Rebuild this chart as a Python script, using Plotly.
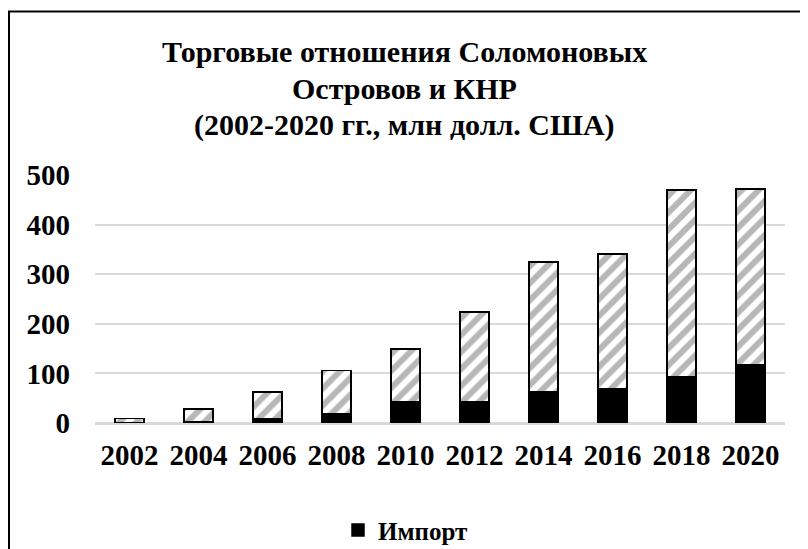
import plotly.graph_objects as go

years = ["2002", "2004", "2006", "2008", "2010", "2012", "2014", "2016", "2018", "2020"]
imports = [1, 3, 9, 18, 43, 43, 62, 68, 92, 118]
exports = [8, 25, 53, 88, 106, 180, 262, 273, 378, 354]
y_ticks = [0, 100, 200, 300, 400, 500]
title_lines = ["Торговые отношения Соломоновых", "Островов и КНР", "(2002-2020 гг., млн долл. США)"]

FONT = "Liberation Serif"
OFF = 8  # page body margin offset
# plot area in figure coordinates
PLOT_TOP, PLOT_BOT, PLOT_L, PLOT_R = 174.5 - OFF, 423.3 - OFF, 95 - OFF, 785 - OFF
PH = PLOT_BOT - PLOT_TOP
PW = PLOT_R - PLOT_L


def py(pix):
    return (PLOT_BOT - (pix - OFF)) / PH


def px(pix):
    return ((pix - OFF) - PLOT_L) / PW


fig = go.Figure()
fig.add_trace(go.Bar(
    x=years, y=imports, name="Импорт",
    marker=dict(color="black", line=dict(color="black", width=1.5)),
    width=0.42,
))
fig.add_trace(go.Bar(
    x=years, y=exports, name="Экспорт", showlegend=False,
    marker=dict(
        color="white",
        line=dict(color="black", width=1.8),
        pattern=dict(shape="/", fgcolor="#707070", bgcolor="white", size=12, solidity=0.5),
    ),
    width=0.42,
))

title_centers = [51, 87.5, 124]
annotations = [
    dict(text=t, xref="paper", yref="paper", x=px(404), y=py(c), xanchor="center", yanchor="middle",
         showarrow=False, font=dict(family=FONT, size=30, color="black", weight="bold"))
    for t, c in zip(title_lines, title_centers)
]

fig.update_layout(
    width=808, height=549,
    barmode="stack",
    paper_bgcolor="white", plot_bgcolor="white",
    margin=dict(l=PLOT_L, r=808 - PLOT_R, t=PLOT_TOP, b=549 - PLOT_BOT, autoexpand=False),
    font=dict(family=FONT, color="black", size=29, weight="bold"),
    xaxis=dict(
        showgrid=False, showline=True, linecolor="#d9d9d9", linewidth=1.5,
        tickfont=dict(size=29, family=FONT, weight="bold"),
        ticks="", ticklabelstandoff=5,
    ),
    yaxis=dict(
        range=[0, 500], tickvals=y_ticks,
        showgrid=True, gridcolor="#d9d9d9", gridwidth=1.5,
        zeroline=True, zerolinecolor="#d9d9d9", zerolinewidth=1.5,
        showline=False, ticks="",
        tickfont=dict(size=29, family=FONT, weight="bold"),
        ticklabelstandoff=24,
    ),
    legend=dict(
        orientation="h", x=px(338), xanchor="left", y=py(531), yanchor="middle",
        font=dict(size=25, family=FONT, weight="bold"),
    ),
    annotations=annotations,
    shapes=[dict(
        type="rect", xref="paper", yref="paper",
        x0=px(9), x1=px(840),
        y0=py(600), y1=py(10.5),
        line=dict(color="black", width=2), fillcolor="rgba(0,0,0,0)", layer="above",
    )],
)

fig.write_html("out.html")
